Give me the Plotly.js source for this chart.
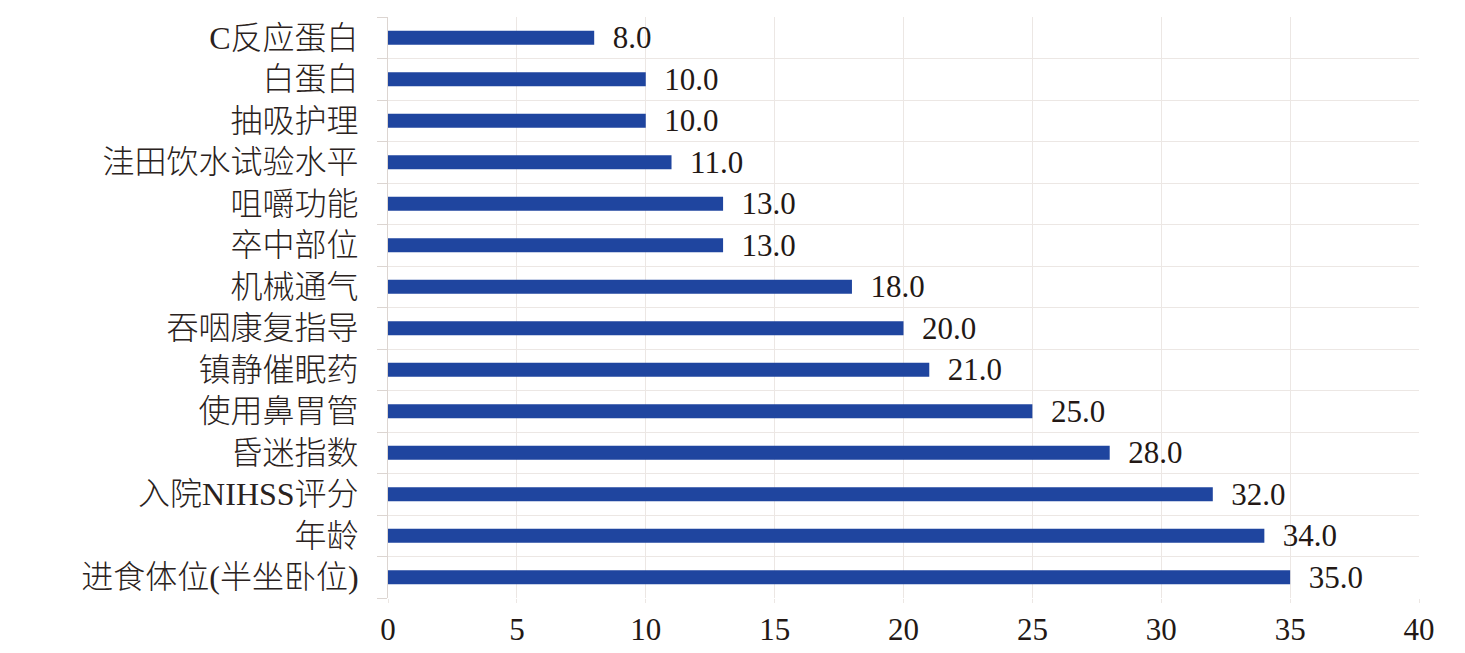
<!DOCTYPE html>
<html>
<head>
<meta charset="utf-8">
<script src="https://cdn.plot.ly/plotly-3.0.1.min.js"></script>
<style>
  html, body { margin: 0; padding: 0; background: #fff; }
  #chart { width: 1465px; height: 653px; }
</style>
</head>
<body>
<div id="chart"></div>
<script>
// bottom to top, the way plotly stacks categories
var factors = ["进食体位(半坐卧位)", "年龄", "入院NIHSS评分", "昏迷指数", "使用鼻胃管",
  "镇静催眠药", "吞咽康复指导", "机械通气", "卒中部位", "咀嚼功能",
  "洼田饮水试验水平", "抽吸护理", "白蛋白", "C反应蛋白"];
var scores = [35, 34, 32, 28, 25, 21, 20, 18, 13, 13, 11, 10, 10, 8];
var xTicks = [0, 5, 10, 15, 20, 25, 30, 35, 40];

var serif = "Liberation Serif, Noto Sans CJK SC, serif";

var trace = {
  type: 'bar',
  orientation: 'h',
  y: factors,
  x: scores,
  marker: { color: '#1f459f' },
  texttemplate: '\u00a0\u00a0%{x:.1f}',
  textposition: 'outside',
  constraintext: 'none',
  textfont: { family: serif, size: 31, color: '#231815' },
  cliponaxis: false,
  hoverinfo: 'none'
};

var layout = {
  width: 1465,
  height: 653,
  margin: { l: 388, r: 46, t: 17, b: 55 },
  paper_bgcolor: '#fff',
  plot_bgcolor: '#fff',
  bargap: 0.66,
  showlegend: false,
  font: { family: serif, color: '#231815' },
  xaxis: {
    range: [0, 40],
    tickvals: xTicks,
    ticktext: xTicks.map(String),
    tickfont: { family: serif, size: 31, color: '#231815' },
    showgrid: true,
    gridcolor: '#ece7e4',
    gridwidth: 1,
    zeroline: false,
    showline: false,
    ticks: 'outside',
    ticklen: 4,
    tickcolor: '#ece7e4',
    ticklabelstandoff: 0
  },
  yaxis: {
    type: 'category',
    tickson: 'boundaries',
    tickfont: { family: serif, size: 32, weight: 300, color: '#2a2220' },
    showgrid: true,
    gridcolor: '#ece7e4',
    gridwidth: 1,
    showline: true,
    linecolor: '#dcd5d1',
    linewidth: 1,
    ticks: 'outside',
    ticklen: 10,
    tickcolor: '#dcd5d1',
    ticklabelstandoff: 22,
    automargin: false
  }
};

Plotly.newPlot('chart', [trace], layout, { displayModeBar: false, staticPlot: true });
</script>
</body>
</html>
